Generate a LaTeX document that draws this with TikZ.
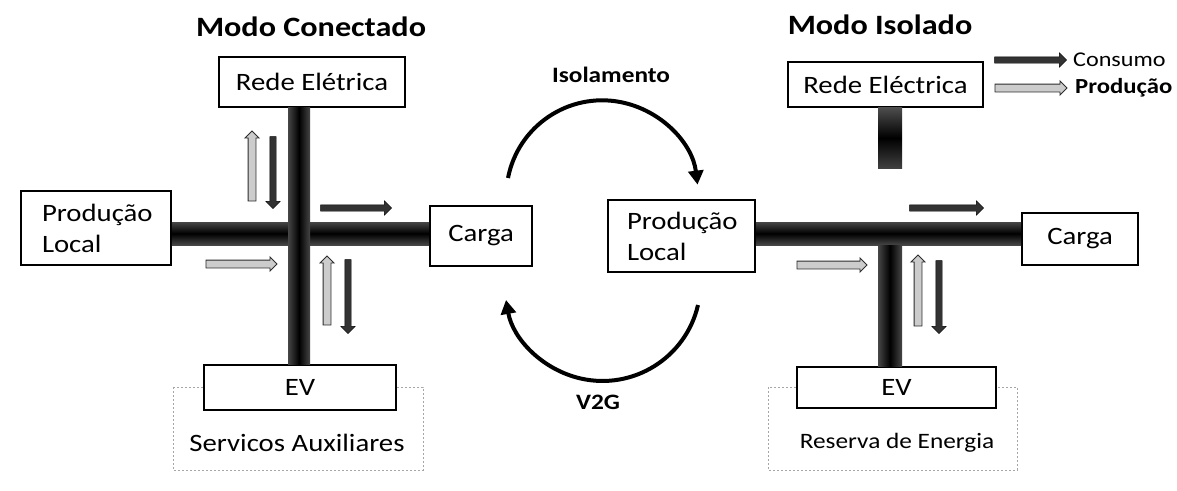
\documentclass[tikz,border=0pt]{standalone}
\usepackage{fontspec}
\setmainfont{Carlito}[FakeStretch=1.15]
\usetikzlibrary{shapes.arrows,arrows.meta}
\begin{document}
\begin{tikzpicture}[x=1pt,y=-1pt,
  box/.style={draw=black, line width=1.6pt, fill=white, inner sep=0pt, font=\fontsize{25}{31}\selectfont},
  dotbox/.style={draw=gray!70, line width=1pt, dash pattern=on 2pt off 2pt},
  hbar/.style={top color=gray!55!black, bottom color=gray!55!black, middle color=black},
  vbar/.style={left color=gray!55!black, right color=gray!55!black, middle color=black},
  darr/.style={single arrow, draw=black, fill=black!80, inner sep=3pt, single arrow head extend=4pt, single arrow head indent=0pt, minimum height=#1},
  harr/.style={single arrow, draw=gray!35!black, line width=0.9pt, fill=gray!40, inner sep=3.5pt, single arrow head extend=3pt, single arrow head indent=0pt, minimum height=#1},
  ttl/.style={font=\fontsize{28}{32}\selectfont\bfseries},
  sub/.style={font=\fontsize{22}{26}\selectfont\bfseries},
  lbl/.style={font=\fontsize{25}{30}\selectfont},
  cyc/.style={line width=4pt, -{Triangle[length=14pt,width=15pt]}}
]
\useasboundingbox (0,0) rectangle (1177,490);
\fill[white] (0,0) rectangle (1177,490);

% ---------- titles ----------
\node[ttl] (t1) at (311,27) {Modo Conectado};
\node[ttl] (t2) at (880,25) {Modo Isolado};

% ---------- left: dotted frame ----------
\draw[dotbox] (173,387) rectangle (423,470);
\node[lbl] (sa) at (297,443) {Servicos Auxiliares};

% ---------- left boxes ----------
\node[box, minimum width=186pt, minimum height=50pt] (rdL) at (312,82) {Rede Elétrica};
\node[box, minimum width=150pt, minimum height=74pt, text width=108pt, align=left, inner xsep=21pt] (plL) at (96,228) {Produção\\Local};
\node[box, minimum width=102pt, minimum height=60pt] (cgL) at (481,236) {Carga};
\node[box, minimum width=192pt, minimum height=45pt] (evL) at (300,387.5) {EV};

\coordinate (lv1) at (288,0);
\coordinate (lv2) at (310,0);
\coordinate (lh1) at (0,222);
\coordinate (lh2) at (0,245);
\shade[hbar] (plL.east |- lh1) rectangle (cgL.west |- lh2);
\shade[vbar] (rdL.south -| lv1) rectangle (evL.north -| lv2);

% left flow arrows
\node[harr=70pt, rotate=90] (la1) at (252,168) {};
\node[darr=72pt, rotate=-90] (la2) at (273,171) {};
\node[darr=71pt] (la3) at (354.5,208) {};
\node[harr=71pt] (la4) at (239.5,264) {};
\node[harr=69pt, rotate=90] (la5) at (327,292.5) {};
\node[darr=74pt, rotate=-90] (la6) at (348,295) {};

% ---------- middle ----------
\node[sub] (iso) at (611,75) {Isolamento};
\node[sub] (v2g) at (598,402) {V2G};
\node[box, minimum width=147pt, minimum height=72pt, text width=109pt, align=left, inner xsep=19pt] (plR) at (681.5,236) {Produção\\Local};
\coordinate (isoA) at (508,178);
\coordinate (v2gA) at (698,305);
\draw[cyc] (isoA) arc[start angle=191, end angle=353, radius=96];
\draw[cyc] (v2gA) arc[start angle=13, end angle=170, radius=98];

% ---------- right ----------
\draw[dotbox] (768,387) rectangle (1017,470);
\node[lbl, font=\fontsize{22}{26}\selectfont] (re) at (897,443) {Reserva de Energia};

\node[box, minimum width=195pt, minimum height=45pt] (rdR) at (885.5,84.5) {Rede Eléctrica};
\node[box, minimum width=116pt, minimum height=52pt] (cgR) at (1080,239) {Carga};
\node[box, minimum width=199pt, minimum height=41pt] (evR) at (896.5,387.5) {EV};

\coordinate (rv1) at (878,0);
\coordinate (rv2) at (902,0);
\coordinate (rs) at (0,168);
\shade[top color=gray!60!black, bottom color=gray!50!black, middle color=black] (rdR.south -| rv1) rectangle (rs -| rv2);
\shade[hbar] (plR.east |- lh1) rectangle (cgR.west |- lh2);
\shade[vbar] (lh2 -| rv1) rectangle (evR.north -| rv2);

\node[darr=74pt] (ra1) at (945,208) {};
\node[harr=70pt] (ra2) at (830,265) {};
\node[harr=71pt, rotate=90] (ra3) at (918,292.5) {};
\node[darr=73pt, rotate=-90] (ra4) at (939,295.5) {};

% legend
\node[darr=72pt] (lg1) at (1029,60) {};
\node[harr=72pt] (lg2) at (1029,88) {};
\node[anchor=west, font=\fontsize{21}{24}\selectfont, inner sep=0pt] (cons) at (1073,60) {Consumo};
\node[anchor=west, font=\fontsize{21.5}{24}\selectfont\bfseries, inner sep=0pt] (prod) at (1075,88) {Produção};
\end{tikzpicture}
\end{document}
